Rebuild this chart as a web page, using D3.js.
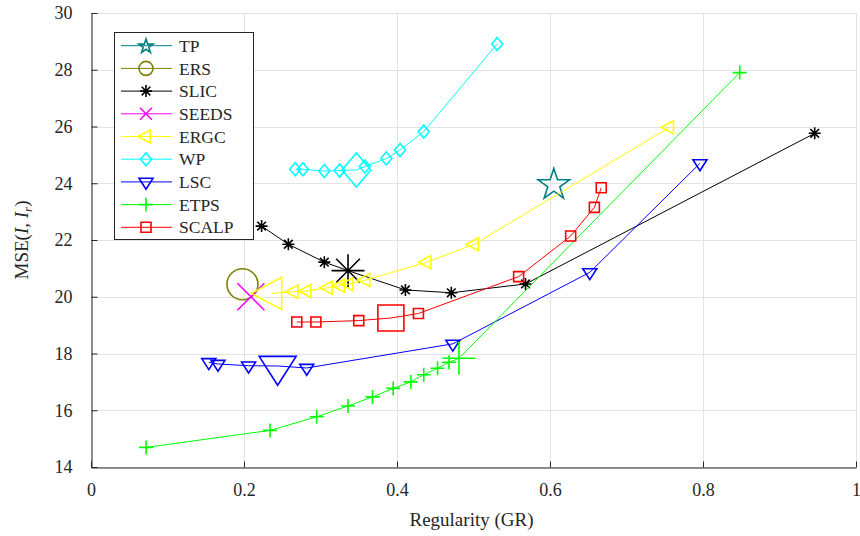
<!DOCTYPE html>
<html>
<head>
<meta charset="utf-8">
<script src="https://cdn.jsdelivr.net/npm/d3@7/dist/d3.min.js"></script>
<style>
  html, body { margin: 0; padding: 0; background: #fff; }
  svg { display: block; }
  text { font-family: "Liberation Serif", "DejaVu Serif", serif; fill: #262626; }
</style>
</head>
<body>
<svg id="chart" width="860" height="536"></svg>
<script>
// ---------------- data ----------------
const seriesNames = ["TP", "ERS", "SLIC", "SEEDS", "ERGC", "WP", "LSC", "ETPS", "SCALP"];

const tpX = [0.605];
const tpY = [24.0];

const ersX = [0.198];
const ersY = [20.44];

const slicX = [0.223, 0.258, 0.305, 0.336, 0.411, 0.471, 0.568, 0.946];
const slicY = [22.49, 21.85, 21.22, 20.92, 20.24, 20.14, 20.45, 25.76];

const seedsX = [0.209];
const seedsY = [20.00];

const ergcX = [0.236, 0.265, 0.282, 0.310, 0.326, 0.337, 0.359, 0.439, 0.501, 0.756];
const ergcY = [20.12, 20.18, 20.20, 20.32, 20.39, 20.44, 20.59, 21.22, 21.85, 25.97];

const wpX = [0.267, 0.277, 0.305, 0.325, 0.347, 0.358, 0.386, 0.404, 0.435, 0.531];
const wpY = [24.49, 24.49, 24.43, 24.45, 24.47, 24.59, 24.87, 25.17, 25.82, 28.91];

const lscX = [0.154, 0.166, 0.206, 0.244, 0.282, 0.473, 0.652, 0.796];
const lscY = [17.69, 17.63, 17.57, 17.56, 17.49, 18.34, 20.86, 24.70];

const etpsX = [0.072, 0.234, 0.295, 0.336, 0.368, 0.395, 0.418, 0.435, 0.453, 0.468, 0.481, 0.848];
const etpsY = [14.69, 15.29, 15.77, 16.15, 16.47, 16.77, 17.00, 17.25, 17.48, 17.69, 17.83, 27.90];

const scalpX = [0.269, 0.294, 0.350, 0.392, 0.428, 0.559, 0.627, 0.658, 0.667];
const scalpY = [19.11, 19.11, 19.16, 19.25, 19.41, 20.71, 22.14, 23.15, 23.84];

// default-parameter points (drawn with large markers)
const defaultX = [0.605, 0.198, 0.336, 0.209, 0.236, 0.347, 0.244, 0.481, 0.392];
const defaultY = [24.0, 20.44, 20.92, 20.00, 20.12, 24.47, 17.56, 17.83, 19.25];

const xTicks = [0, 0.2, 0.4, 0.6, 0.8, 1];
const xTickLabels = ["0", "0.2", "0.4", "0.6", "0.8", "1"];
const yTicks = [14, 16, 18, 20, 22, 24, 26, 28, 30];
const yTickLabels = ["14", "16", "18", "20", "22", "24", "26", "28", "30"];

// ---------------- styles ----------------
const seriesColors = ["#008080", "#808000", "#000000", "#ff00ff", "#ffff00", "#00ffff", "#0000ff", "#00ff00", "#ff0000"];
const seriesMarkers = ["star", "circle", "asterisk", "cross", "triLeft", "diamond", "triDown", "plus", "square"];
const smallSize = { star: 15, circle: 14, asterisk: 12, cross: 12, triLeft: 13, diamond: 13, triDown: 14, plus: 14, square: 10 };
const bigSize = { star: 33, circle: 31, asterisk: 33, cross: 27, triLeft: 32, diamond: 34, triDown: 37, plus: 33, square: 26 };

const allX = [tpX, ersX, slicX, seedsX, ergcX, wpX, lscX, etpsX, scalpX];
const allY = [tpY, ersY, slicY, seedsY, ergcY, wpY, lscY, etpsY, scalpY];

// ---------------- layout ----------------
const W = 860, H = 536;
const M = { left: 91, right: 4, top: 13, bottom: 69 };
const svg = d3.select("#chart");

const x = d3.scaleLinear().domain([0, 1]).range([M.left, W - M.right]);
const y = d3.scaleLinear().domain([14, 30]).range([H - M.bottom, M.top]);

// grid
const grid = svg.append("g");
grid.selectAll("line.vx").data(xTicks).enter().append("line")
  .attr("x1", d => Math.round(x(d)) + 0.5).attr("x2", d => Math.round(x(d)) + 0.5)
  .attr("y1", y(14)).attr("y2", y(30))
  .attr("stroke", "#e3e3e3").attr("stroke-width", 1);
grid.selectAll("line.hy").data(yTicks).enter().append("line")
  .attr("y1", d => Math.round(y(d)) + 0.5).attr("y2", d => Math.round(y(d)) + 0.5)
  .attr("x1", x(0)).attr("x2", x(1))
  .attr("stroke", "#e3e3e3").attr("stroke-width", 1);

// axes
const xAxis = d3.axisBottom(x).tickValues(xTicks).tickFormat((d, i) => xTickLabels[i]).tickSizeInner(-6).tickSizeOuter(0).tickPadding(16);
const yAxis = d3.axisLeft(y).tickValues(yTicks).tickFormat((d, i) => yTickLabels[i]).tickSizeInner(-6).tickSizeOuter(0).tickPadding(19);

const gx = svg.append("g").attr("transform", `translate(0,${Math.round(y(14)) + 0.5})`).call(xAxis);
const gy = svg.append("g").attr("transform", `translate(${Math.round(x(0)) + 0.5},0)`).call(yAxis);
[gx, gy].forEach(g => {
  g.select(".domain").attr("stroke", "#262626").attr("stroke-width", 1);
  g.selectAll(".tick line").attr("stroke", "#262626");
  g.selectAll(".tick text").attr("font-family", "Liberation Serif, serif").attr("font-size", 18).attr("fill", "#262626");
});

// axis labels
svg.append("text").attr("x", (x(0) + x(1)) / 2 - 2).attr("y", 526).attr("text-anchor", "middle")
  .attr("font-size", 19).text("Regularity (GR)");

const yl = svg.append("text").attr("transform", `translate(28,${(y(14) + y(30)) / 2}) rotate(-90)`)
  .attr("text-anchor", "middle").attr("font-size", 19);
yl.append("tspan").text("MSE(");
yl.append("tspan").attr("font-style", "italic").text("I");
yl.append("tspan").text(", ");
yl.append("tspan").attr("font-style", "italic").text("I");
yl.append("tspan").attr("font-style", "italic").attr("font-size", 13).attr("dy", 4).text("r");
yl.append("tspan").attr("dy", -4).text(")");

// ---------------- markers ----------------
function markerPath(type, s) {
  const h = s / 2;
  const p = d3.path();
  switch (type) {
    case "circle":
      p.arc(0, 0, h, 0, 2 * Math.PI); break;
    case "square":
      p.rect(-h, -h, s, s); break;
    case "diamond": {
      const w = h * 0.85;
      p.moveTo(0, -h); p.lineTo(w, 0); p.lineTo(0, h); p.lineTo(-w, 0); p.closePath(); break;
    }
    case "triDown": {
      const d = s * 0.78;
      p.moveTo(-h, -d / 3); p.lineTo(h, -d / 3); p.lineTo(0, 2 * d / 3); p.closePath(); break;
    }
    case "triLeft": {
      const d = s * 0.95;
      p.moveTo(d / 3, -h); p.lineTo(d / 3, h); p.lineTo(-2 * d / 3, 0); p.closePath(); break;
    }
    case "plus":
      p.moveTo(-h, 0); p.lineTo(h, 0); p.moveTo(0, -h); p.lineTo(0, h); break;
    case "cross": {
      const c = h;
      p.moveTo(-c, -c); p.lineTo(c, c); p.moveTo(-c, c); p.lineTo(c, -c); break;
    }
    case "asterisk": {
      const c = h * 0.72;
      p.moveTo(-h, 0); p.lineTo(h, 0); p.moveTo(0, -h); p.lineTo(0, h);
      p.moveTo(-c, -c); p.lineTo(c, c); p.moveTo(-c, c); p.lineTo(c, -c); break;
    }
    case "star": {
      const R = h, r = h * 0.382;
      for (let k = 0; k < 10; k++) {
        const a = -Math.PI / 2 + k * Math.PI / 5;
        const rr = k % 2 === 0 ? R : r;
        const px = rr * Math.cos(a), py = rr * Math.sin(a) + R * 0.1;
        if (k === 0) p.moveTo(px, py); else p.lineTo(px, py);
      }
      p.closePath(); break;
    }
  }
  return p.toString();
}

const lineGen = d3.line().x(d => x(d[0])).y(d => y(d[1]));
const plotG = svg.append("g");

seriesNames.forEach((name, i) => {
  const pts = allX[i].map((v, j) => [v, allY[i][j]]);
  const col = seriesColors[i];
  if (pts.length > 1) {
    plotG.append("path").datum(pts).attr("d", lineGen)
      .attr("fill", "none").attr("stroke", col).attr("stroke-width", 1);
  }
  const mk = seriesMarkers[i];
  pts.forEach(pt => {
    const isDefault = Math.abs(pt[0] - defaultX[i]) < 1e-9 && Math.abs(pt[1] - defaultY[i]) < 1e-9;
    plotG.append("path")
      .attr("d", markerPath(mk, isDefault ? bigSize[mk] : smallSize[mk]))
      .attr("transform", `translate(${x(pt[0])},${y(pt[1])})`)
      .attr("fill", "none").attr("stroke", col).attr("stroke-width", 1.6)
      .attr("stroke-linejoin", "miter");
  });
});

// ---------------- legend ----------------
const lg = svg.append("g");
const lgX = 114, lgY = 32, lgW = 139, lgH = 207, rowH = 22.7, firstRow = 45.7;
lg.append("rect").attr("x", lgX + 0.5).attr("y", lgY + 0.5).attr("width", lgW).attr("height", lgH)
  .attr("fill", "#fff").attr("stroke", "#262626").attr("stroke-width", 1);
seriesNames.forEach((name, i) => {
  const cy = firstRow + i * rowH;
  const col = seriesColors[i];
  lg.append("line").attr("x1", 121).attr("x2", 172).attr("y1", cy).attr("y2", cy)
    .attr("stroke", col).attr("stroke-width", 1);
  lg.append("path").attr("d", markerPath(seriesMarkers[i], smallSize[seriesMarkers[i]]))
    .attr("transform", `translate(146,${cy})`)
    .attr("fill", "none").attr("stroke", col).attr("stroke-width", 1.6);
  lg.append("text").attr("x", 179).attr("y", cy).attr("dy", "0.35em")
    .attr("font-size", 17.5).text(name);
});
</script>
</body>
</html>
